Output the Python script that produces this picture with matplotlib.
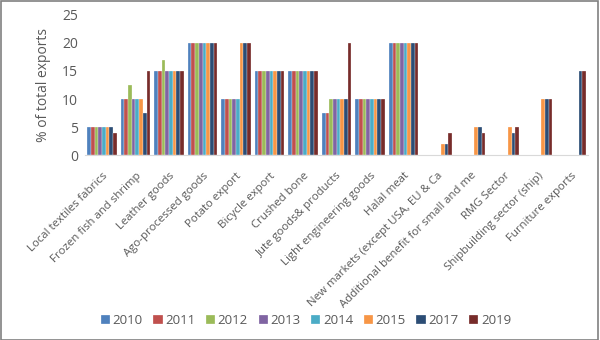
import numpy as np
import matplotlib.pyplot as plt

nan = np.nan

categories = [
    "Local textiles fabrics", "Frozen fish and shrimp", "Leather goods",
    "Ago-processed goods", "Potato export", "Bicycle export", "Crushed bone",
    "Jute goods& products", "Light engineering goods", "Halal meat",
    "New markets (except USA, EU & Ca", "Additional benefit for small and me",
    "RMG Sector", "Shipbuilding sector (ship)", "Furniture exports",
]
years = ["2010", "2011", "2012", "2013", "2014", "2015", "2017", "2019"]

v2010 = [5, 10, 15, 20, 10, 15, 15, 7.5, 10, 20, nan, nan, nan, nan, nan]
v2011 = [5, 10, 15, 20, 10, 15, 15, 7.5, 10, 20, nan, nan, nan, nan, nan]
v2012 = [5, 12.5, 17, 20, 10, 15, 15, 10, 10, 20, nan, nan, nan, nan, nan]
v2013 = [5, 10, 15, 20, 10, 15, 15, 10, 10, 20, nan, nan, nan, nan, nan]
v2014 = [5, 10, 15, 20, 10, 15, 15, 10, 10, 20, nan, nan, nan, nan, nan]
v2015 = [5, 10, 15, 20, 20, 15, 15, 10, 10, 20, 2, 5, 5, 10, nan]
v2017 = [5, 7.5, 15, 20, 20, 15, 15, 10, 10, 20, 2, 5, 4, 10, 15]
v2019 = [4, 15, 15, 20, 20, 15, 15, 20, 10, 20, 4, 4, 5, 10, 15]

series = [v2010, v2011, v2012, v2013, v2014, v2015, v2017, v2019]
colors = ["#4F81BD", "#C0504D", "#9BBB59", "#8064A2",
          "#4BACC6", "#F79646", "#2C4D75", "#772C2A"]

plt.rcParams['font.family'] = ['Open Sans', 'DejaVu Sans']
grey = "#595959"
fig = plt.figure(figsize=(6, 3.4), dpi=100)
ax = fig.add_axes([0.142, 0.544, 0.838, 0.412])

x = np.arange(len(categories))
n = len(series)
w = 0.88 / n
for i, (vals, c, yr) in enumerate(zip(series, colors, years)):
    ax.bar(x - 0.44 + w * (i + 0.5), vals, width=w, color=c, label=yr,
           edgecolor="white", linewidth=0.2)

ax.set_xlim(-0.5, len(categories) - 0.5)
ax.set_ylim(0, 25)
ax.set_yticks([0, 5, 10, 15, 20, 25])
ax.tick_params(axis="y", length=0, labelsize=10, labelcolor=grey, pad=5)
ax.tick_params(axis="x", length=0, labelsize=8.2, labelcolor=grey, pad=11)
ax.set_xticks(x)
ax.set_xticklabels(categories, rotation=45, ha="right", rotation_mode="anchor")
for s in ["top", "right", "left"]:
    ax.spines[s].set_visible(False)
ax.spines["bottom"].set_color("#D9D9D9")
ax.set_ylabel("% of total exports", fontsize=10, color=grey, labelpad=8)

fig.legend(loc="center", bbox_to_anchor=(0.51, 0.058), ncol=8, frameon=False,
           fontsize=9.5, handlelength=0.7, handleheight=0.7, handletextpad=0.2,
           columnspacing=0.8, labelcolor=grey)

# thin frame around the whole figure
fig.patches.append(plt.Rectangle((0.001, 0.001), 0.996, 0.997, transform=fig.transFigure,
                                 fill=False, edgecolor="#808080", linewidth=1.2))

fig.savefig("out.png", dpi=100)
